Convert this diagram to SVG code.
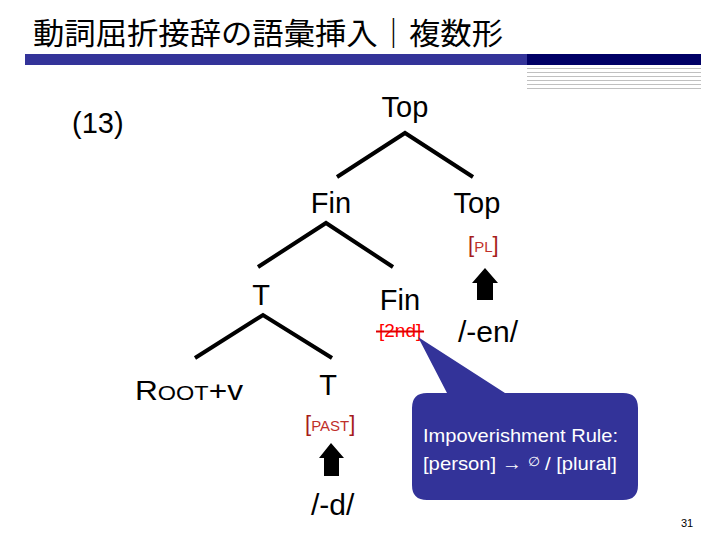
<svg xmlns="http://www.w3.org/2000/svg" width="720" height="540" viewBox="0 0 720 540">
<style>
.t{font-family:"Liberation Sans",Arial,sans-serif;fill:#000}
.lbl{font-size:29px}
.br{font-family:"Liberation Sans",Arial,sans-serif;fill:#a61c1c;font-size:22px}
.sc{font-size:15px;fill:#c0302a}
.edge{stroke:#000;stroke-width:4;stroke-linecap:butt;fill:none}
.arr{fill:#000}
.cw{font-family:"Liberation Sans",Arial,sans-serif;fill:#fff;font-size:19px}
.gl{stroke:#c0c0c0;stroke-width:1}
</style>
<rect width="720" height="540" fill="#fff"/>
<g id="header">
<text x="33" y="44" font-family="'Noto Sans CJK JP','Noto Sans CJK SC',sans-serif" font-size="30" textLength="470" lengthAdjust="spacingAndGlyphs" fill="#000">動詞屈折接辞の語彙挿入｜複数形</text>
<rect x="25" y="54" width="502" height="11" fill="#333399"/>
<rect x="527" y="54" width="174" height="11" fill="#000066"/>
<line class="gl" x1="527" y1="68.5" x2="701" y2="68.5"/>
<line class="gl" x1="527" y1="72.5" x2="701" y2="72.5"/>
<line class="gl" x1="527" y1="76.5" x2="701" y2="76.5"/>
<line class="gl" x1="527" y1="80.5" x2="701" y2="80.5"/>
<line class="gl" x1="527" y1="84.5" x2="701" y2="84.5"/>
<line class="gl" x1="527" y1="88.5" x2="701" y2="88.5"/>
</g>
<g id="connectors">
<polyline class="edge" points="337,177 405,133 473,177"/>
<polyline class="edge" points="258,267 326,223 393,267"/>
<polyline class="edge" points="195,358 263,315 332,358"/>
<path class="arr" d="M485,268 L498,283 L493,283 L493,300 L477,300 L477,283 L472,283 Z"/>
<path class="arr" d="M331,443 L344,458 L339,458 L339,476 L324,476 L324,458 L319,458 Z"/>
</g>
<g id="ex-num"><text class="t lbl" x="72" y="133">(13)</text></g>
<g id="n-top"><text class="t lbl" x="405" y="117" text-anchor="middle">Top</text></g>
<g id="n-fin1"><text class="t lbl" x="331" y="213" text-anchor="middle">Fin</text></g>
<g id="n-top2"><text class="t lbl" x="477" y="213" text-anchor="middle">Top</text>
<text class="br" x="468" y="252">[<tspan class="sc">PL</tspan>]</text></g>
<g id="n-t1"><text class="t lbl" x="261" y="305" text-anchor="middle">T</text></g>
<g id="n-fin2"><text class="t lbl" x="400" y="310" text-anchor="middle">Fin</text>
<text x="379" y="337" font-family="'Liberation Sans',Arial,sans-serif" font-size="19" fill="#ff0000">[2nd]</text>
<line x1="376" y1="331.5" x2="424" y2="331.5" stroke="#e00000" stroke-width="2"/></g>
<g id="n-en"><text class="t" x="458" y="342" font-size="30">/-en/</text></g>
<g id="n-root"><text class="t" x="135" y="400" font-size="27" textLength="108" lengthAdjust="spacingAndGlyphs">R<tspan font-size="20">OOT</tspan>+v</text></g>
<g id="n-t2"><text class="t lbl" x="328" y="395" text-anchor="middle">T</text>
<text class="br" x="305" y="431">[<tspan class="sc">PAST</tspan>]</text></g>
<g id="n-d"><text class="t" x="311" y="515" font-size="30">/-d/</text></g>
<g id="callout">
<path d="M427,393 L447,393 L418,337 L505,393 L623,393 Q638,393 638,408 L638,485 Q638,500 623,500 L427,500 Q412,500 412,485 L412,408 Q412,393 427,393 Z" fill="#333399"/>
<text class="cw" x="423" y="442" textLength="195" lengthAdjust="spacingAndGlyphs">Impoverishment Rule:</text>
<text class="cw" x="423" y="470" textLength="194" lengthAdjust="spacingAndGlyphs">[person] → <tspan font-size="13" dy="-4">∅</tspan><tspan dy="4"> / [plural]</tspan></text>
</g>
<g id="page"><text class="t" x="687" y="527" font-size="11" text-anchor="middle">31</text></g>
</svg>
